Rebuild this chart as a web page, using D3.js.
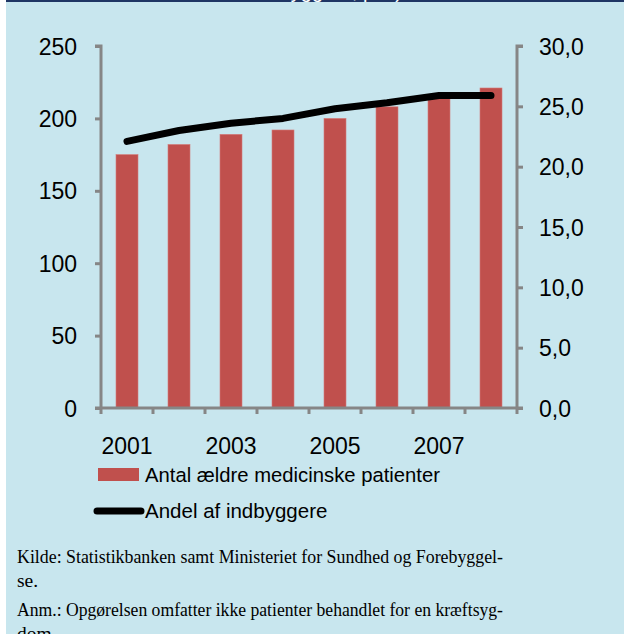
<!DOCTYPE html>
<html>
<head>
<meta charset="utf-8">
<script src="https://cdn.jsdelivr.net/npm/d3@7"></script>
<style>
  html, body { margin: 0; padding: 0; background: #fff; }
  svg { display: block; }
</style>
</head>
<body>
<div id="chart"></div>
<script>
// data
const years = ["2001", "2002", "2003", "2004", "2005", "2006", "2007", "2008"];
const patients = [175, 182, 189, 192, 200, 208, 215, 221];      // Antal ældre medicinske patienter
const share = [22.1, 23.0, 23.6, 24.0, 24.8, 25.3, 25.9, 25.9]; // Andel af indbyggere
const leftTicks = [0, 50, 100, 150, 200, 250];
const rightTicks = [0, 5, 10, 15, 20, 25, 30];
const yearLabels = ["2001", "2003", "2005", "2007"];

const W = 624, H = 634;
const grey = "#868686", red = "#C0504D";

const svg = d3.select("#chart")
  .append("svg")
    .attr("width", W)
    .attr("height", H);

// panel background
svg.append("rect")
  .attr("x", 6).attr("y", 0)
  .attr("width", W - 6).attr("height", H)
  .attr("fill", "#C8E6EE");
svg.append("rect")
  .attr("x", 6).attr("y", 0)
  .attr("width", W - 6).attr("height", 2)
  .attr("fill", "#1F3564");
// cut-off title above the panel, only descenders show
svg.append("text")
  .attr("x", 402).attr("y", -2)
  .attr("text-anchor", "end")
  .style("font-family", "Liberation Sans, Arial, sans-serif")
  .style("font-size", "20px")
  .attr("fill", "#fff")
  .text("andel af indbyggere, pct.)");

// scales
const x = d3.scaleBand()
  .domain(years)
  .range([101, 517])
  .paddingInner(0.577)
  .paddingOuter(0.2885);

const y = d3.scaleLinear().domain([0, 250]).range([408, 46]);
const y2 = d3.scaleLinear().domain([0, 30]).range([408, 46]);

// bars
svg.selectAll("rect.bar")
  .data(patients)
  .enter()
  .append("rect")
    .attr("class", "bar")
    .attr("x", function(d, i) { return x(years[i]); })
    .attr("y", function(d) { return y(d); })
    .attr("width", x.bandwidth())
    .attr("height", function(d) { return y(0) - y(d); })
    .attr("fill", red)
    .attr("stroke", "#D47C7A")
    .attr("stroke-width", 0.6);

// line
const line = d3.line()
  .x(function(d, i) { return x(years[i]) + x.bandwidth() / 2; })
  .y(function(d) { return y2(d); });

svg.append("path")
  .datum(share)
  .attr("d", line)
  .attr("fill", "none")
  .attr("stroke", "#000")
  .attr("stroke-width", 7)
  .attr("stroke-linejoin", "round")
  .attr("stroke-linecap", "round");

const font = "Liberation Sans, Arial, sans-serif";

// left axis
const leftAxis = svg.append("g")
  .attr("transform", "translate(101,0)")
  .call(d3.axisLeft(y).tickValues(leftTicks).tickSize(6).tickFormat(d3.format("d")));
leftAxis.selectAll("text")
  .attr("x", -24)
  .attr("dy", "0.35em")
  .style("font-family", font)
  .style("font-size", "23px")
  .attr("fill", "#000");

// right axis
const rightAxis = svg.append("g")
  .attr("transform", "translate(517,0)")
  .call(d3.axisRight(y2).tickValues(rightTicks).tickSize(6)
    .tickFormat(function(d) { return d3.format(".1f")(d).replace(".", ","); }));
rightAxis.selectAll("text")
  .attr("x", 22)
  .attr("dy", "0.35em")
  .style("font-family", font)
  .style("font-size", "23px")
  .attr("fill", "#000");

[leftAxis, rightAxis].forEach(function(a) {
  a.select(".domain").attr("stroke", grey).attr("stroke-width", 3)
    .attr("d", a === leftAxis ? "M-6,46H0V408" : "M6,46H0V408");
  a.selectAll(".tick line").attr("stroke", grey).attr("stroke-width", 3);
});

// x axis: ticks at category boundaries, labels on every other year
const boundaries = years.map(function(d) { return x(d) - x.step() * x.paddingInner() / 2; });
boundaries.push(517);
svg.append("line")
  .attr("x1", 95).attr("x2", 523)
  .attr("y1", 408).attr("y2", 408)
  .attr("stroke", grey).attr("stroke-width", 3);
svg.selectAll("line.xtick")
  .data(boundaries)
  .enter()
  .append("line")
    .attr("class", "xtick")
    .attr("x1", function(d) { return d; })
    .attr("x2", function(d) { return d; })
    .attr("y1", 408).attr("y2", 414)
    .attr("stroke", grey).attr("stroke-width", 3);
svg.selectAll("text.xlab")
  .data(yearLabels)
  .enter()
  .append("text")
    .attr("class", "xlab")
    .attr("x", function(d) { return x(d) + x.bandwidth() / 2; })
    .attr("y", 454)
    .attr("text-anchor", "middle")
    .style("font-family", font)
    .style("font-size", "23px")
    .text(function(d) { return d; });

// legend
svg.append("rect")
  .attr("x", 98).attr("y", 468)
  .attr("width", 41).attr("height", 13)
  .attr("fill", red);
svg.append("text")
  .attr("x", 145).attr("y", 482)
  .style("font-family", font)
  .style("font-size", "20.5px")
  .attr("textLength", 295).attr("lengthAdjust", "spacingAndGlyphs")
  .text("Antal ældre medicinske patienter");
svg.append("line")
  .attr("x1", 97).attr("x2", 141)
  .attr("y1", 511).attr("y2", 511)
  .attr("stroke", "#000").attr("stroke-width", 7)
  .attr("stroke-linecap", "round");
svg.append("text")
  .attr("x", 145).attr("y", 518)
  .style("font-family", font)
  .style("font-size", "20.5px")
  .text("Andel af indbyggere");

// notes
const notes = [
  {t: "Kilde: Statistikbanken samt Ministeriet for Sundhed og Forebyggel-", y: 563, just: true},
  {t: "se.", y: 587, just: false},
  {t: "Anm.: Opgørelsen omfatter ikke patienter behandlet for en kræftsyg-", y: 616, just: true},
  {t: "dom.", y: 640, just: false}
];
notes.forEach(function(n) {
  const t = svg.append("text")
    .attr("x", 17).attr("y", n.y)
    .style("font-family", "Liberation Serif, Times New Roman, serif")
    .style("font-size", "19.5px")
    .text(n.t);
  if (n.just) t.attr("textLength", 486).attr("lengthAdjust", "spacingAndGlyphs");
});
</script>
</body>
</html>
